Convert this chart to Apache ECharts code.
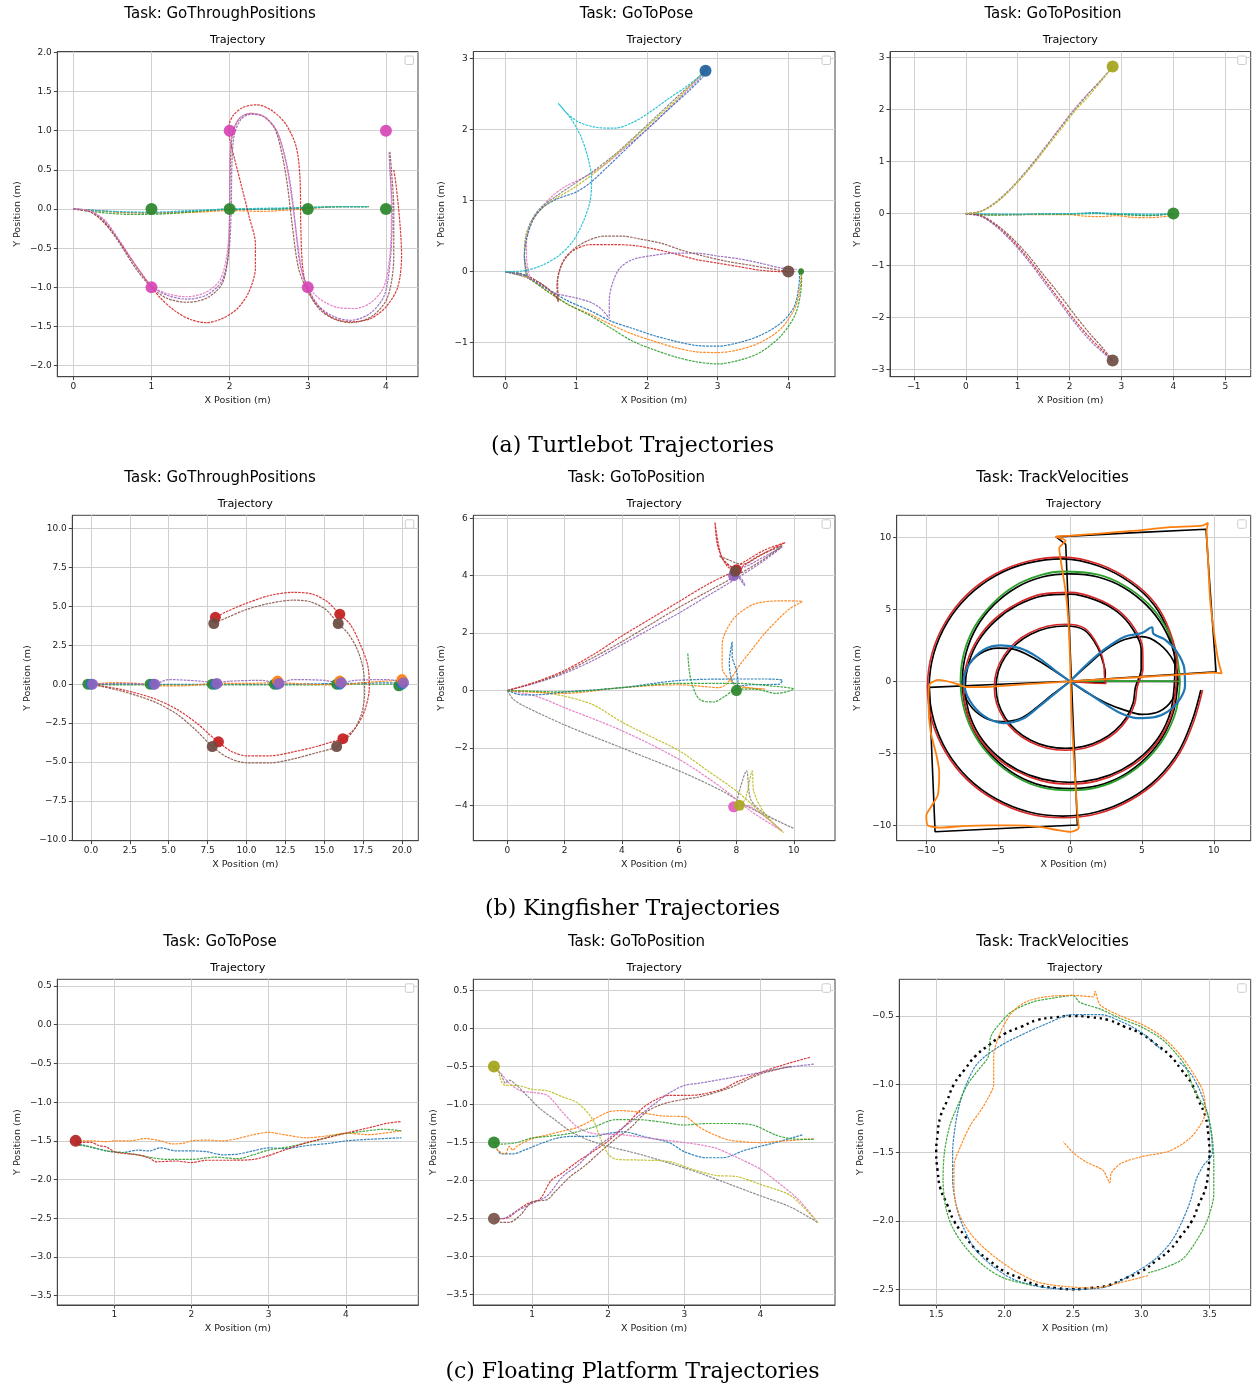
<!DOCTYPE html>
<html><head><meta charset="utf-8">
<script src="https://cdn.jsdelivr.net/npm/echarts@6/dist/echarts.min.js"></script>
<style>html,body{margin:0;padding:0;background:#fff}#c{width:1258px;height:1388px}</style>
</head><body><div id="c"></div>
<script>
// ---------------- tick values ----------------
const a1XTicks=[0,1,2,3,4], a1YTicks=[-2,-1.5,-1,-0.5,0,0.5,1,1.5,2];
const a2XTicks=[0,1,2,3,4], a2YTicks=[-1,0,1,2,3];
const a3XTicks=[-1,0,1,2,3,4,5], a3YTicks=[-3,-2,-1,0,1,2,3];
const b1XTicks=[0,2.5,5,7.5,10,12.5,15,17.5,20], b1YTicks=[-10,-7.5,-5,-2.5,0,2.5,5,7.5,10];
const b2XTicks=[0,2,4,6,8,10], b2YTicks=[-4,-2,0,2,4,6];
const b3XTicks=[-10,-5,0,5,10], b3YTicks=[-10,-5,0,5,10];
const c1XTicks=[1,2,3,4], c1YTicks=[-3.5,-3,-2.5,-2,-1.5,-1,-0.5,0,0.5];
const c2XTicks=[1,2,3,4], c2YTicks=[-3.5,-3,-2.5,-2,-1.5,-1,-0.5,0,0.5];
const c3XTicks=[1.5,2,2.5,3,3.5], c3YTicks=[-2.5,-2,-1.5,-1,-0.5];

const taskTitles=['Task: GoThroughPositions','Task: GoToPose','Task: GoToPosition','Task: GoThroughPositions','Task: GoToPosition','Task: TrackVelocities','Task: GoToPose','Task: GoToPosition','Task: TrackVelocities'];
const captions=['(a) Turtlebot Trajectories','(b) Kingfisher Trajectories','(c) Floating Platform Trajectories'];

// ---------------- (a1) Turtlebot GoThroughPositions ----------------
const a1Blue=[[0,0],[0.3,-0.02],[0.6,-0.04],[1.0,-0.05],[1.5,-0.03],[2.0,-0.01],[2.5,0.0],[3.0,0.01],[3.4,0.03],[3.78,0.03]];
const a1Orange=[[0,0],[0.4,-0.03],[0.8,-0.05],[1.2,-0.05],[1.6,-0.04],[2.0,-0.02],[2.4,-0.03],[2.8,-0.01],[3.2,0.02],[3.5,0.03],[3.78,0.03]];
const a1Green=[[0,0],[0.4,-0.05],[0.8,-0.07],[1.2,-0.06],[1.6,-0.03],[2.0,0.0],[2.5,0.0],[3.0,0.02],[3.4,0.03],[3.78,0.03]];
const a1Cyan=[[0,0],[0.5,-0.03],[1.0,-0.04],[1.5,-0.02],[2.0,0.0],[2.5,0.01],[3.0,0.02],[3.5,0.03],[3.78,0.03]];
const a1Purple=[[0,0],[0.2,-0.02],[0.4,-0.15],[0.6,-0.42],[0.8,-0.73],[1.0,-0.98],[1.2,-1.1],[1.45,-1.15],[1.7,-1.1],[1.9,-0.92],[1.99,-0.55],[2.02,0.0],[2.03,0.6],[2.06,0.95],[2.15,1.15],[2.28,1.21],[2.45,1.17],[2.6,1.0],[2.7,0.7],[2.78,0.3],[2.84,-0.2],[2.9,-0.7],[3.0,-1.0],[3.15,-1.25],[3.35,-1.38],[3.55,-1.42],[3.8,-1.33],[3.98,-1.1],[4.06,-0.6],[4.08,0.0],[4.05,0.5],[4.04,0.72]];
const a1Brown=[[0,0],[0.2,-0.03],[0.4,-0.17],[0.6,-0.45],[0.8,-0.76],[1.0,-1.0],[1.2,-1.14],[1.45,-1.19],[1.7,-1.14],[1.9,-0.96],[1.98,-0.6],[2.0,0.0],[2.01,0.6],[2.04,0.97],[2.13,1.16],[2.27,1.22],[2.44,1.18],[2.58,1.02],[2.67,0.7],[2.74,0.3],[2.8,-0.2],[2.88,-0.75],[2.99,-1.03],[3.15,-1.28],[3.35,-1.41],[3.55,-1.45],[3.82,-1.37],[4.02,-1.13],[4.1,-0.6],[4.1,0.0],[4.07,0.5],[4.05,0.74]];
const a1Pink=[[0,0],[0.2,-0.02],[0.4,-0.14],[0.6,-0.42],[0.8,-0.72],[1.0,-0.98],[1.2,-1.08],[1.45,-1.12],[1.7,-1.06],[1.88,-0.9],[1.97,-0.55],[2.0,0.0],[2.0,0.6],[2.03,0.95],[2.12,1.15],[2.27,1.22],[2.44,1.18],[2.6,1.0],[2.72,0.6],[2.8,0.1],[2.88,-0.5],[2.95,-0.9],[3.05,-1.05],[3.2,-1.18],[3.4,-1.26],[3.6,-1.27],[3.8,-1.2],[3.97,-1.0],[4.05,-0.6],[4.07,0.0],[4.05,0.6]];
const a1Red=[[0,0],[0.25,-0.05],[0.5,-0.3],[0.75,-0.65],[0.95,-0.93],[1.1,-1.12],[1.3,-1.3],[1.5,-1.41],[1.7,-1.45],[1.9,-1.4],[2.1,-1.27],[2.25,-1.05],[2.33,-0.75],[2.33,-0.45],[2.25,-0.1],[2.15,0.3],[2.06,0.65],[2.0,0.9],[1.99,1.05],[2.05,1.2],[2.18,1.3],[2.35,1.33],[2.55,1.25],[2.72,1.08],[2.85,0.8],[2.9,0.4],[2.91,-0.2],[2.93,-0.7],[2.98,-0.98],[3.1,-1.2],[3.3,-1.38],[3.55,-1.44],[3.8,-1.4],[4.0,-1.25],[4.15,-1.0],[4.2,-0.6],[4.18,-0.2],[4.13,0.3],[4.1,0.5]];
const a1GoalGreen=[[1,0],[2,0],[3,0],[4,0]];
const a1GoalMagenta=[[1,-1],[2,1],[3,-1],[4,1]];

// ---------------- (a2) Turtlebot GoToPose ----------------
const a2Cyan=[[0,0],[0.25,0.01],[0.5,0.08],[0.75,0.22],[0.95,0.42],[1.1,0.7],[1.2,1.0],[1.22,1.3],[1.17,1.6],[1.07,1.9],[0.93,2.15],[0.75,2.37],[0.88,2.22],[1.05,2.1],[1.3,2.03],[1.55,2.02],[1.8,2.1],[2.05,2.25],[2.3,2.43],[2.55,2.6],[2.85,2.83]];
const a2Olive=[[0,0],[0.15,-0.02],[0.3,-0.08],[0.27,0.2],[0.3,0.5],[0.4,0.75],[0.55,0.92],[0.75,1.05],[1.0,1.2],[1.3,1.42],[1.6,1.68],[1.9,1.95],[2.2,2.22],[2.5,2.5],[2.83,2.85]];
const a2Pink=[[0,0],[0.2,-0.03],[0.35,-0.1],[0.3,0.2],[0.3,0.45],[0.38,0.7],[0.5,0.88],[0.65,1.05],[0.85,1.2],[1.1,1.32],[1.4,1.5],[1.7,1.75],[2.0,2.0],[2.3,2.28],[2.6,2.58],[2.8,2.78]];
const a2Gray=[[0,0],[0.2,-0.02],[0.32,-0.07],[0.27,0.25],[0.29,0.5],[0.37,0.72],[0.5,0.9],[0.7,1.05],[0.95,1.22],[1.25,1.42],[1.55,1.65],[1.85,1.92],[2.15,2.2],[2.45,2.48],[2.75,2.75],[2.87,2.9]];
const a2BlueUp=[[0,0],[0.2,-0.03],[0.3,-0.06],[0.27,0.2],[0.3,0.45],[0.4,0.75],[0.55,0.92],[0.75,1.03],[1.0,1.12],[1.2,1.25],[1.45,1.48],[1.7,1.72],[2.0,2.0],[2.3,2.28],[2.6,2.55],[2.8,2.75]];
const a2Blue=[[0,0],[0.3,-0.08],[0.6,-0.25],[0.9,-0.42],[1.2,-0.55],[1.5,-0.7],[1.8,-0.8],[2.1,-0.9],[2.4,-0.98],[2.7,-1.04],[3.0,-1.05],[3.3,-1.0],[3.6,-0.9],[3.9,-0.72],[4.08,-0.5],[4.15,-0.2],[4.16,0.05]];
const a2Orange=[[0,0],[0.3,-0.08],[0.6,-0.28],[0.9,-0.47],[1.2,-0.6],[1.5,-0.75],[1.8,-0.88],[2.1,-0.98],[2.4,-1.07],[2.7,-1.13],[3.0,-1.14],[3.3,-1.1],[3.6,-1.0],[3.9,-0.8],[4.1,-0.5],[4.17,-0.2],[4.18,0.05]];
const a2Green=[[0,0],[0.3,-0.08],[0.6,-0.28],[0.9,-0.47],[1.2,-0.62],[1.5,-0.8],[1.8,-0.98],[2.1,-1.1],[2.4,-1.2],[2.7,-1.27],[3.0,-1.3],[3.3,-1.25],[3.6,-1.14],[3.9,-0.9],[4.1,-0.6],[4.18,-0.25],[4.19,0.05]];
const a2Red=[[0,0],[0.3,-0.06],[0.55,-0.2],[0.7,-0.33],[0.75,-0.42],[0.73,-0.2],[0.76,0.0],[0.85,0.2],[1.0,0.32],[1.2,0.38],[1.5,0.38],[1.8,0.37],[2.1,0.32],[2.4,0.25],[2.7,0.17],[3.0,0.12],[3.3,0.07],[3.6,0.02],[3.9,0.0],[4.1,0.0]];
const a2Brown=[[0,0],[0.3,-0.06],[0.55,-0.2],[0.72,-0.35],[0.75,-0.42],[0.74,-0.15],[0.8,0.1],[0.95,0.3],[1.15,0.43],[1.4,0.5],[1.65,0.5],[1.9,0.46],[2.2,0.4],[2.5,0.3],[2.8,0.22],[3.1,0.15],[3.4,0.1],[3.7,0.05],[4.0,0.0]];
const a2Purple=[[0,0],[0.35,-0.1],[0.7,-0.3],[1.0,-0.37],[1.2,-0.43],[1.35,-0.52],[1.47,-0.66],[1.47,-0.4],[1.52,-0.15],[1.62,0.05],[1.8,0.17],[2.1,0.23],[2.4,0.26],[2.7,0.26],[3.0,0.22],[3.3,0.18],[3.6,0.12],[3.9,0.05],[4.12,0.03]];
const a2GoalBlue=[[2.83,2.83]], a2GoalBrown=[[4,0]], a2GoalGreen=[[4.18,0]];

// ---------------- (a3) Turtlebot GoToPosition ----------------
const a3Pink=[[0,0],[0.25,0.03],[0.5,0.15],[0.8,0.4],[1.1,0.72],[1.4,1.08],[1.7,1.5],[2.0,1.9],[2.3,2.25],[2.6,2.55],[2.83,2.83]];
const a3Olive=[[0,0],[0.3,0.04],[0.6,0.22],[0.9,0.5],[1.2,0.83],[1.5,1.2],[1.8,1.58],[2.1,1.97],[2.4,2.3],[2.65,2.6],[2.83,2.83]];
const a3Gray=[[0,0],[0.3,0.05],[0.6,0.24],[0.9,0.52],[1.2,0.86],[1.5,1.24],[1.8,1.62],[2.1,2.0],[2.4,2.35],[2.65,2.62],[2.83,2.83]];
const a3Blue=[[0,0],[0.5,-0.02],[1.0,-0.02],[1.5,-0.01],[2.0,-0.01],[2.5,0.02],[2.8,-0.01],[3.2,-0.02],[3.6,-0.03],[4.0,0.0]];
const a3Orange=[[0,0],[0.5,-0.02],[1.0,-0.02],[1.5,-0.02],[2.0,-0.02],[2.3,-0.05],[2.6,-0.06],[2.9,-0.04],[3.2,-0.07],[3.5,-0.08],[3.8,-0.06],[4.0,-0.03]];
const a3Green=[[0,0],[0.5,-0.03],[1.0,-0.02],[1.5,-0.01],[2.0,-0.01],[2.5,0.0],[3.0,-0.02],[3.5,-0.04],[4.0,0.0]];
const a3Cyan=[[0,0],[1.0,-0.01],[2.0,0.0],[2.5,0.01],[3.0,0.0],[3.6,-0.01],[4.0,0.0]];
const a3Red=[[0,0],[0.3,-0.05],[0.6,-0.24],[0.9,-0.52],[1.2,-0.86],[1.5,-1.25],[1.8,-1.65],[2.1,-2.05],[2.4,-2.4],[2.65,-2.65],[2.83,-2.83]];
const a3Purple=[[0,0],[0.3,-0.06],[0.6,-0.26],[0.9,-0.55],[1.2,-0.9],[1.5,-1.3],[1.8,-1.7],[2.1,-2.1],[2.4,-2.45],[2.65,-2.68],[2.83,-2.83]];
const a3Brown=[[0,0],[0.3,-0.04],[0.6,-0.22],[0.9,-0.48],[1.2,-0.8],[1.5,-1.18],[1.8,-1.55],[2.1,-1.95],[2.4,-2.32],[2.65,-2.6],[2.83,-2.83]];
const a3GoalOlive=[[2.83,2.83]], a3GoalGreen=[[4,0]], a3GoalBrown=[[2.83,-2.83]];

// ---------------- (b1) Kingfisher GoThroughPositions ----------------
const b1Green=[[0,0],[2,-0.05],[4,-0.05],[6,-0.05],[8,-0.05],[10,-0.05],[12,-0.05],[14,-0.05],[16,0.0],[18,0.0],[20,0.0]];
const b1Orange=[[0,0],[1.5,0.1],[3,0.05],[4,-0.1],[6,-0.1],[8,0.05],[10,0.05],[12,0.1],[14,0.0],[16,-0.05],[17.5,0.1],[19,0.2],[20,0.25]];
const b1Purple=[[0,0],[2,0.05],[4,0.0],[5,0.3],[7,0.2],[8,0.1],[9,0.2],[11,0.25],[12,0.05],[13,0.3],[15,0.25],[16,0.1],[17,0.25],[19,0.3],[20,0.2]];
const b1Blue=[[0,0],[4,0.0],[8,0.0],[12,0.0],[16,0.05],[20,0.1]];
const b1Red=[[0,0],[2,-0.35],[4,-0.9],[5.5,-1.6],[6.8,-2.5],[7.7,-3.3],[8.2,-3.7],[9,-4.3],[10,-4.6],[11.5,-4.6],[13,-4.35],[14.5,-4.0],[15.5,-3.7],[16.2,-3.5],[17,-2.8],[17.6,-1.7],[17.9,-0.2],[17.8,1.2],[17.3,2.6],[16.7,3.8],[16,4.5],[15.2,5.3],[14.2,5.8],[13,5.9],[11.5,5.7],[10,5.2],[8.8,4.7],[8,4.3]];
const b1Brown=[[0,0],[2,-0.45],[4,-1.1],[5.5,-1.9],[6.8,-3.0],[7.8,-4.0],[8.8,-4.7],[10,-5.05],[11.5,-5.05],[13,-4.8],[14.5,-4.4],[15.8,-4.0],[16.8,-3.1],[17.4,-1.9],[17.6,-0.5],[17.5,1.0],[17.1,2.3],[16.5,3.3],[15.9,3.9],[15.1,4.8],[14.1,5.3],[13,5.4],[11.5,5.2],[10,4.8],[8.8,4.3],[7.9,3.9]];
const b1GoalGreen=[[-0.2,0],[3.8,0],[7.8,0],[11.8,0],[15.8,0],[19.8,-0.1]];
const b1GoalBlue=[[0,0],[4,0],[8,0],[12,0],[16,0],[20,0]];
const b1GoalOrange=[[12,0.2],[16,0.2],[20,0.3]];
const b1GoalPurple=[[0.1,0],[4.1,0],[8.1,0.05],[12.1,0.05],[16.1,0.1],[20.1,0.1]];
const b1GoalRed=[[8,4.3],[16,4.5],[8.2,-3.7],[16.2,-3.5]];
const b1GoalBrown=[[7.9,3.9],[15.9,3.9],[7.8,-4.0],[15.8,-4.0]];

// ---------------- (b2) Kingfisher GoToPosition ----------------
const b2Red=[[0,0],[1,0.3],[2,0.7],[3,1.25],[4,1.9],[5,2.5],[6,3.1],[7,3.7],[8,4.2],[9,4.8],[9.7,5.15],[9.0,4.9],[8.3,4.5],[7.9,4.3],[7.5,4.6],[7.25,5.85],[7.35,5.0],[7.7,4.3],[8.0,4.2]];
const b2Brown=[[0,0],[1,0.28],[2,0.65],[3,1.15],[4,1.7],[5,2.3],[6,2.9],[7,3.45],[8,4.0],[9,4.6],[9.6,5.05],[8.8,4.7],[8.2,4.4],[7.6,4.6],[7.4,4.7],[7.8,4.3],[8.0,4.15]];
const b2Purple=[[0,0],[1,0.26],[2,0.6],[3,1.05],[4,1.6],[5,2.15],[6,2.7],[7,3.3],[8,3.9],[9,4.55],[9.6,5.0],[8.5,4.4],[8.0,4.1],[8.3,3.65],[8.1,3.95],[7.8,3.8],[8.0,4.05]];
const b2Gray=[[0,0],[0.2,-0.3],[0.5,-0.5],[2,-1.2],[4,-2.0],[6,-2.8],[7.5,-3.5],[8.5,-4.1],[10,-4.8],[9.0,-4.3],[8.5,-3.8],[8.35,-2.8],[8.1,-3.5],[8.0,-4.0]];
const b2Pink=[[0,0],[1,-0.2],[2,-0.6],[4,-1.4],[6,-2.4],[7.5,-3.4],[8.5,-4.2],[9.6,-4.9],[9.0,-4.4],[8.3,-4.0],[7.95,-4.05]];
const b2Olive=[[0,0],[1,-0.05],[2,-0.2],[3,-0.5],[4,-1.1],[5,-1.6],[6,-2.1],[7,-2.8],[8,-3.5],[8.8,-4.2],[9.65,-4.95],[9.0,-4.3],[8.6,-3.5],[8.55,-2.8],[8.3,-3.8],[8.05,-4.0]];
const b2Blue=[[0,0],[0.5,-0.15],[1,-0.15],[2,-0.05],[4,0.1],[6,0.35],[8,0.4],[9,0.4],[9.6,0.35],[9.5,0.22],[8.5,0.2],[8,0.15],[7.8,0.5],[7.75,1.0],[7.85,1.7],[7.85,1.2],[8.0,0.7],[8.05,0.3],[8.0,0.05]];
const b2Green=[[0,0],[2,-0.05],[4,0.1],[6,0.25],[8,0.25],[9.3,0.15],[10,0.05],[9.4,-0.1],[8.6,0.05],[8.0,0.05],[7.6,-0.2],[7.2,-0.4],[6.7,-0.3],[6.4,0.4],[6.3,1.3]];
const b2Orange=[[0,0],[2,-0.1],[4,0.1],[6,0.2],[7.4,0.1],[8.2,1.0],[9.0,2.0],[9.8,2.8],[10.3,3.1],[9.5,3.12],[8.6,3.0],[7.9,2.5],[7.5,1.6],[7.5,0.8],[8.0,0.2],[9.0,0.05],[8.2,0.1]];
const b2GoalRed=[[8.0,4.2]], b2GoalBrown=[[7.95,4.15]], b2GoalPurple=[[7.9,4.0]];
const b2GoalGreen=[[8,0]], b2GoalPink=[[7.9,-4.05]], b2GoalOlive=[[8.1,-4.0]];

// ---------------- (b3) Kingfisher TrackVelocities ----------------
const b3SquareRef=[[0,0],[5,0.33],[10.16,0.66],[9.8,5.6],[9.46,10.55],[4.2,10.3],[-0.97,10.02],[-0.3,9.5],[0.1,0],[0.51,-9.97],[-4.4,-10.2],[-9.39,-10.44],[-9.6,-5.4],[-9.79,-0.42],[-4.9,-0.2],[0,0]];
const b3SquareOrange=[[0,0],[2.5,0.15],[5,0.3],[7.5,0.45],[10.0,0.6],[10.55,0.55],[10.3,1.5],[10.0,3.5],[9.74,5.75],[9.6,8.5],[9.5,10.4],[9.6,11.0],[9.2,10.8],[7,10.7],[4.5,10.45],[2,10.25],[0,10.1],[-1.0,10.05],[-0.3,9.75],[-0.75,9.25],[-0.6,8.1],[-0.3,6.2],[-0.1,4],[0,1.5],[0.1,-2],[0.25,-5],[0.4,-7.5],[0.5,-9.0],[0.6,-10.2],[0.0,-10.45],[-1.0,-10.3],[-2.1,-10.1],[-4,-10.0],[-5.6,-10.0],[-7.5,-10.05],[-9.05,-10.15],[-9.9,-10.0],[-10.0,-9.3],[-9.6,-8.6],[-9.2,-7.9],[-9.1,-6.3],[-9.3,-5.1],[-9.7,-3.5],[-9.85,-1.5],[-9.8,-0.25],[-9.2,0.1],[-8.1,-0.1],[-7.2,-0.4],[-5.6,-0.38],[-3,-0.2],[0,0]];
const b3EightRef=[[0,0],[1.2,1.1],[2.5,2.2],[3.8,2.9],[5,3.1],[6.2,2.6],[7.2,1.4],[7.5,0],[7.1,-1.3],[6.2,-2.1],[5,-2.3],[3.8,-2.0],[2.5,-1.5],[1.2,-0.8],[0,0],[-1.2,0.8],[-2.5,1.6],[-3.8,2.2],[-5.0,2.3],[-6.3,1.9],[-7.2,0.9],[-7.5,-0.3],[-7.0,-1.6],[-6.0,-2.5],[-4.8,-2.8],[-3.5,-2.6],[-2.3,-1.8],[-1.2,-0.9],[0,0]];
const b3EightBlue=[[0,0],[1.2,1.2],[2.5,2.3],[3.8,3.1],[5,3.35],[5.7,3.75],[5.8,3.3],[6.6,2.9],[7.4,2.1],[7.95,0.9],[8.0,-0.3],[7.6,-1.3],[6.8,-2.1],[5.8,-2.5],[4.7,-2.55],[3.5,-2.2],[2.3,-1.5],[1.1,-0.7],[0,0],[-1.1,0.8],[-2.3,1.7],[-3.5,2.3],[-4.8,2.5],[-6.0,2.2],[-7.0,1.2],[-7.4,0],[-7.0,-1.3],[-6.0,-2.4],[-4.6,-2.9],[-3.3,-2.6],[-2.1,-1.7],[-1.0,-0.8],[0,0]];
const b3CircleRef=[[0,0],[3.8,0],[7.5,0],[7.24,1.94],[6.5,3.75],[5.3,5.3],[3.75,6.5],[1.94,7.24],[0,7.45],[-1.94,7.24],[-3.75,6.5],[-5.3,5.3],[-6.5,3.75],[-7.24,1.94],[-7.5,0],[-7.24,-1.94],[-6.5,-3.75],[-5.3,-5.3],[-3.75,-6.5],[-1.94,-7.24],[0,-7.45],[1.94,-7.24],[3.75,-6.5],[5.3,-5.3],[6.5,-3.75],[7.24,-1.94],[7.5,0]];
const b3CircleGreen=[[0,0],[3.8,0.02],[7.65,0],[7.38,1.98],[6.62,3.83],[5.4,5.42],[3.82,6.62],[1.95,7.4],[-0.5,7.62],[-2.0,7.38],[-3.85,6.62],[-5.4,5.38],[-6.62,3.82],[-7.38,1.97],[-7.62,0],[-7.36,-1.98],[-6.6,-3.8],[-5.37,-5.38],[-3.8,-6.6],[-1.96,-7.36],[0,-7.56],[1.97,-7.34],[3.8,-6.58],[5.4,-5.36],[6.62,-3.8],[7.4,-1.96],[7.65,0]];
const b3SpiralRef=[[0,0],[1.2,-0.05],[2.4,-0.05],[2.45,0.6],[2.3,1.3],[1.9,2.4],[1.0,3.55],[-0.3,3.84],[-1.56,3.7],[-2.73,3.27],[-3.73,2.6],[-4.5,1.72],[-4.99,0.69],[-5.15,-0.41],[-4.99,-1.51],[-4.5,-2.54],[-3.73,-3.42],[-2.73,-4.09],[-1.56,-4.52],[-0.3,-4.66],[0.96,-4.52],[2.13,-4.09],[3.13,-3.42],[3.9,-2.54],[4.39,-1.51],[4.55,-0.41],[4.95,0.85],[4.95,2.25],[4.35,3.65],[3.25,4.85],[1.75,5.65],[0.0,6.05],[-1.91,5.93],[-3.67,5.27],[-5.17,4.22],[-6.33,2.86],[-7.05,1.27],[-7.3,-0.43],[-7.05,-2.13],[-6.33,-3.72],[-5.17,-5.08],[-3.67,-6.13],[-1.91,-6.79],[-0.03,-7.01],[1.85,-6.79],[3.6,-6.13],[5.11,-5.08],[6.27,-3.72],[6.99,-2.13],[7.24,-0.43],[7.3,1.35],[6.85,3.4],[5.85,5.3],[4.2,6.85],[2.0,8.0],[-0.5,8.5],[-2.95,8.2],[-5.15,7.35],[-7.08,5.93],[-8.55,4.08],[-9.48,1.92],[-9.8,-0.4],[-9.48,-2.72],[-8.55,-4.88],[-7.08,-6.73],[-5.15,-8.15],[-2.91,-9.05],[-0.5,-9.35],[1.91,-9.05],[4.15,-8.15],[6.08,-6.73],[7.55,-4.88],[8.5,-2.72],[9.1,-0.6]];
const b3SpiralRed=[[0,0],[1.2,-0.1],[2.5,-0.15],[2.4,0.3],[2.35,1.2],[1.95,2.45],[1.03,3.67],[-0.3,3.96],[-1.59,3.82],[-2.79,3.37],[-3.82,2.69],[-4.6,1.78],[-5.11,0.72],[-5.27,-0.41],[-5.11,-1.54],[-4.6,-2.6],[-3.82,-3.51],[-2.79,-4.19],[-1.59,-4.64],[-0.3,-4.78],[0.99,-4.64],[2.19,-4.19],[3.22,-3.51],[4.0,-2.6],[4.51,-1.54],[4.67,-0.41],[5.07,0.88],[5.05,2.31],[4.44,3.74],[3.31,4.95],[1.78,5.77],[0.0,6.17],[-1.94,6.05],[-3.73,5.37],[-5.26,4.31],[-6.43,2.92],[-7.17,1.3],[-7.42,-0.43],[-7.17,-2.16],[-6.43,-3.78],[-5.26,-5.17],[-3.73,-6.23],[-1.94,-6.91],[-0.03,-7.13],[1.88,-6.91],[3.66,-6.23],[5.2,-5.17],[6.37,-3.78],[7.11,-2.16],[7.36,-0.43],[7.42,1.38],[6.95,3.46],[5.94,5.39],[4.26,6.95],[2.03,8.12],[-0.5,8.62],[-2.98,8.32],[-5.21,7.45],[-7.17,6.02],[-8.65,4.14],[-9.6,1.95],[-9.92,-0.4],[-9.6,-2.75],[-8.65,-4.94],[-7.17,-6.82],[-5.21,-8.25],[-2.94,-9.17],[-0.5,-9.47],[1.94,-9.17],[4.21,-8.25],[6.17,-6.82],[7.65,-4.94],[8.62,-2.75],[9.22,-0.6]];

// ---------------- (c1) Floating GoToPose ----------------
const c1Orange=[[0.5,-1.5],[0.7,-1.5],[0.9,-1.51],[1.0,-1.5],[1.2,-1.5],[1.4,-1.47],[1.6,-1.5],[1.75,-1.54],[1.9,-1.53],[2.0,-1.5],[2.2,-1.49],[2.4,-1.5],[2.6,-1.47],[2.8,-1.42],[3.0,-1.39],[3.2,-1.42],[3.5,-1.46],[3.8,-1.43],[4.0,-1.4],[4.3,-1.42],[4.5,-1.4],[4.72,-1.37]];
const c1Blue=[[0.5,-1.53],[0.7,-1.58],[0.9,-1.63],[1.1,-1.65],[1.3,-1.62],[1.45,-1.63],[1.6,-1.59],[1.8,-1.63],[2.0,-1.63],[2.2,-1.64],[2.4,-1.68],[2.6,-1.67],[2.8,-1.63],[3.0,-1.59],[3.2,-1.6],[3.5,-1.56],[3.8,-1.53],[4.0,-1.5],[4.3,-1.48],[4.72,-1.46]];
const c1Green=[[0.5,-1.55],[0.7,-1.58],[0.9,-1.63],[1.1,-1.65],[1.3,-1.68],[1.5,-1.72],[1.7,-1.74],[2.0,-1.74],[2.3,-1.71],[2.6,-1.73],[2.8,-1.68],[3.0,-1.62],[3.3,-1.57],[3.6,-1.5],[3.9,-1.42],[4.2,-1.38],[4.5,-1.35],[4.72,-1.37]];
const c1Red=[[0.5,-1.52],[0.6,-1.52],[0.7,-1.52],[0.8,-1.56],[0.9,-1.58],[1.0,-1.64],[1.1,-1.66],[1.3,-1.68],[1.45,-1.72],[1.55,-1.77],[1.8,-1.76],[2.0,-1.78],[2.2,-1.75],[2.5,-1.75],[2.8,-1.74],[3.0,-1.69],[3.2,-1.62],[3.5,-1.52],[3.8,-1.45],[4.0,-1.4],[4.3,-1.33],[4.55,-1.27],[4.72,-1.25]];
const c1Goal=[[0.5,-1.5]];

// ---------------- (c2) Floating GoToPosition ----------------
const c2Red=[[4.65,-0.38],[4.3,-0.48],[4.0,-0.58],[3.7,-0.7],[3.5,-0.8],[3.2,-0.87],[3.0,-0.88],[2.8,-0.88],[2.6,-0.95],[2.45,-1.05],[2.3,-1.2],[2.15,-1.35],[2.0,-1.48],[1.8,-1.62],[1.6,-1.75],[1.4,-1.9],[1.25,-2.0],[1.1,-2.25],[0.95,-2.3],[0.8,-2.4],[0.7,-2.48],[0.6,-2.5],[0.5,-2.5]];
const c2Brown=[[4.4,-0.5],[4.0,-0.6],[3.6,-0.78],[3.2,-0.9],[3.0,-0.93],[2.7,-1.0],[2.5,-1.1],[2.3,-1.3],[2.1,-1.45],[1.9,-1.62],[1.7,-1.8],[1.5,-1.95],[1.3,-2.15],[1.2,-2.25],[1.0,-2.28],[0.85,-2.45],[0.7,-2.55],[0.6,-2.55],[0.5,-2.5]];
const c2Purple=[[4.7,-0.47],[4.3,-0.52],[4.0,-0.58],[3.6,-0.65],[3.2,-0.72],[3.0,-0.75],[2.8,-0.85],[2.6,-1.0],[2.4,-1.15],[2.2,-1.3],[2.0,-1.45],[1.8,-1.6],[1.6,-1.8],[1.4,-1.95],[1.2,-2.2],[1.0,-2.3],[0.8,-2.4],[0.6,-2.5],[0.5,-2.5]];
const c2Orange=[[4.7,-1.45],[4.3,-1.48],[4.0,-1.5],[3.6,-1.47],[3.4,-1.4],[3.2,-1.3],[3.0,-1.16],[2.7,-1.15],[2.4,-1.1],[2.15,-1.08],[2.0,-1.1],[1.8,-1.2],[1.6,-1.3],[1.4,-1.35],[1.2,-1.4],[1.0,-1.45],[0.8,-1.55],[0.75,-1.6],[0.7,-1.55],[0.65,-1.65],[0.55,-1.6],[0.5,-1.5]];
const c2Green=[[4.7,-1.46],[4.4,-1.45],[4.2,-1.4],[3.9,-1.27],[3.6,-1.25],[3.3,-1.25],[3.0,-1.27],[2.7,-1.23],[2.4,-1.2],[2.1,-1.2],[1.8,-1.3],[1.5,-1.38],[1.2,-1.42],[1.0,-1.44],[0.8,-1.5],[0.6,-1.52],[0.5,-1.5]];
const c2Blue=[[4.55,-1.4],[4.2,-1.5],[3.8,-1.6],[3.5,-1.7],[3.3,-1.7],[3.0,-1.62],[2.8,-1.5],[2.5,-1.43],[2.2,-1.36],[2.0,-1.38],[1.8,-1.42],[1.5,-1.42],[1.3,-1.45],[1.1,-1.52],[0.9,-1.6],[0.75,-1.65],[0.6,-1.65],[0.55,-1.6],[0.5,-1.5]];
const c2Pink=[[4.75,-2.55],[4.5,-2.25],[4.2,-2.0],[4.0,-1.85],[3.7,-1.7],[3.4,-1.57],[3.0,-1.5],[2.6,-1.45],[2.2,-1.4],[1.8,-1.38],[1.6,-1.3],[1.4,-1.1],[1.2,-0.88],[1.0,-0.84],[0.85,-0.82],[0.7,-0.72],[0.6,-0.6],[0.5,-0.5]];
const c2Olive=[[4.75,-2.55],[4.4,-2.2],[4.0,-2.05],[3.7,-1.95],[3.4,-1.93],[3.1,-1.85],[2.8,-1.75],[2.4,-1.73],[2.1,-1.72],[2.0,-1.65],[1.9,-1.45],[1.8,-1.2],[1.6,-0.98],[1.4,-0.9],[1.2,-0.82],[1.0,-0.8],[0.8,-0.75],[0.65,-0.75],[0.6,-0.7],[0.55,-0.55],[0.5,-0.5]];
const c2Gray=[[4.75,-2.55],[4.4,-2.35],[4.0,-2.2],[3.6,-2.05],[3.2,-1.9],[2.8,-1.77],[2.4,-1.65],[2.0,-1.55],[1.7,-1.45],[1.5,-1.35],[1.3,-1.2],[1.1,-1.05],[0.95,-0.9],[0.8,-0.75],[0.7,-0.68],[0.65,-0.72],[0.6,-0.62],[0.5,-0.5]];
const c2GoalOlive=[[0.5,-0.5]], c2GoalGreen=[[0.5,-1.5]], c2GoalBrown=[[0.5,-2.5]];

// ---------------- (c3) Floating TrackVelocities ----------------
const c3Ref=[[3.5,-1.5],[3.49,-1.37],[3.47,-1.24],[3.42,-1.12],[3.37,-1.0],[3.29,-0.89],[3.21,-0.79],[3.11,-0.71],[3.0,-0.63],[2.88,-0.58],[2.76,-0.53],[2.63,-0.51],[2.5,-0.5],[2.37,-0.51],[2.24,-0.53],[2.12,-0.58],[2.0,-0.63],[1.89,-0.71],[1.79,-0.79],[1.71,-0.89],[1.63,-1.0],[1.58,-1.12],[1.53,-1.24],[1.51,-1.37],[1.5,-1.5],[1.51,-1.63],[1.53,-1.76],[1.58,-1.88],[1.63,-2.0],[1.71,-2.11],[1.79,-2.21],[1.89,-2.29],[2.0,-2.37],[2.12,-2.42],[2.24,-2.47],[2.37,-2.49],[2.5,-2.5],[2.63,-2.49],[2.76,-2.47],[2.88,-2.42],[3.0,-2.37],[3.11,-2.29],[3.21,-2.21],[3.29,-2.11],[3.37,-2.0],[3.42,-1.88],[3.47,-1.76],[3.49,-1.63],[3.5,-1.5]];
const c3Blue=[[3.15,-0.75],[3.0,-0.62],[2.85,-0.54],[2.7,-0.49],[2.5,-0.49],[2.3,-0.56],[2.1,-0.65],[1.95,-0.73],[1.8,-0.85],[1.72,-1.0],[1.67,-1.15],[1.64,-1.3],[1.62,-1.5],[1.62,-1.7],[1.65,-1.9],[1.7,-2.05],[1.78,-2.2],[1.9,-2.32],[2.05,-2.42],[2.25,-2.48],[2.5,-2.5],[2.75,-2.48],[2.95,-2.38],[3.1,-2.28],[3.22,-2.15],[3.3,-2.0],[3.36,-1.85],[3.4,-1.7],[3.45,-1.6],[3.52,-1.5],[3.51,-1.35],[3.48,-1.2],[3.43,-1.05],[3.36,-0.92],[3.28,-0.84]];
const c3Green=[[2.2,-2.47],[2.0,-2.42],[1.85,-2.33],[1.72,-2.2],[1.62,-2.05],[1.57,-1.9],[1.55,-1.7],[1.56,-1.5],[1.6,-1.3],[1.66,-1.15],[1.73,-1.0],[1.82,-0.88],[1.88,-0.8],[1.9,-0.65],[1.97,-0.55],[2.05,-0.47],[2.2,-0.4],[2.35,-0.37],[2.5,-0.35],[2.55,-0.4],[2.7,-0.45],[2.85,-0.52],[3.0,-0.58],[3.15,-0.67],[3.25,-0.77],[3.33,-0.88],[3.37,-1.0],[3.42,-1.1],[3.48,-1.2],[3.52,-1.4],[3.53,-1.6],[3.53,-1.8],[3.48,-2.0],[3.4,-2.15],[3.3,-2.28],[3.15,-2.35],[3.05,-2.38]];
const c3Orange=[[3.05,-2.4],[2.85,-2.45],[2.65,-2.49],[2.45,-2.48],[2.25,-2.45],[2.1,-2.38],[1.95,-2.28],[1.82,-2.17],[1.72,-2.05],[1.65,-1.9],[1.63,-1.75],[1.63,-1.6],[1.68,-1.45],[1.75,-1.3],[1.82,-1.2],[1.88,-1.1],[1.92,-1.0],[1.92,-0.8],[1.97,-0.62],[2.05,-0.48],[2.15,-0.4],[2.3,-0.36],[2.5,-0.35],[2.65,-0.36],[2.66,-0.32],[2.7,-0.42],[2.85,-0.5],[3.0,-0.56],[3.15,-0.65],[3.28,-0.78],[3.38,-0.92],[3.45,-1.05],[3.47,-1.2],[3.43,-1.3],[3.35,-1.4],[3.2,-1.49],[3.0,-1.53],[2.85,-1.58],[2.78,-1.65],[2.77,-1.72],[2.72,-1.63],[2.6,-1.57],[2.5,-1.5],[2.43,-1.42]];

// ---------------- layout ----------------
const FONT='DejaVu Sans';
const COL={blue:'#1f77b4',orange:'#ff7f0e',green:'#2ca02c',red:'#d62728',purple:'#9467bd',brown:'#8c564b',pink:'#e377c2',gray:'#7f7f7f',olive:'#bcbd22',cyan:'#17becf'};
const GRIDS=[[57.3,51.5,360.7,325.2],[473.3,51.5,361.7,325.2],[890,51.5,360.7,325.2],
             [72.3,515.3,346,325.4],[473.3,515.3,361.7,325.4],[896.7,515.3,354,325.4],
             [57.3,979.3,361,325.7],[473.3,979.3,361.7,325.7],[899.3,979.3,351.4,325.7]];
const XEXT=[[-0.205,4.41],[-0.452,4.66],[-1.46,5.49],[-1.2,21.05],[-1.19,11.44],[-12.06,12.57],[0.262,4.94],[0.229,4.98],[1.23,3.80]];
const YEXT=[[-2.14,2.01],[-1.48,3.10],[-3.14,3.12],[-10.05,10.85],[-5.23,6.10],[-11.06,11.52],[-3.62,0.587],[-3.635,0.645],[-2.615,-0.232]];
const XT=[a1XTicks,a2XTicks,a3XTicks,b1XTicks,b2XTicks,b3XTicks,c1XTicks,c2XTicks,c3XTicks];
const YT=[a1YTicks,a2YTicks,a3YTicks,b1YTicks,b2YTicks,b3YTicks,c1YTicks,c2YTicks,c3YTicks];
const XDEC=[0,0,0,1,0,0,0,0,1], YDEC=[1,0,0,1,0,0,1,1,1];
const YGAP=[35,26.6,27,40,26.6,33.7,35,35,34];
const TITLE_X=[220,636.5,1053,220,636.5,1052.5,220,636.5,1052.5];
const ROW_TITLE_Y=[14,478.3,942.3], ROW_SUB_Y=[40,504.3,968.3], CAP_Y=[446,909,1372];

function fmt(v,dec){const s=Math.abs(v).toFixed(dec);return (v<-1e-9?'\u2212':'')+s;}
function axis(g,ext,ticks,dec,name,gap){
  const iv=ticks[1]-ticks[0];
  return {type:'value',gridIndex:g,min:ext[0],max:ext[1],minInterval:iv,maxInterval:iv,
    name:name,nameLocation:'middle',nameGap:gap,nameTextStyle:{fontSize:9.5,fontFamily:FONT,color:'#222'},
    axisLine:{show:true,onZero:false,lineStyle:{color:'#444',width:1}},
    axisTick:{show:true,length:3.5,customValues:ticks,lineStyle:{color:'#444',width:1}},
    axisLabel:{show:true,customValues:ticks,margin:5.5,fontSize:9,fontFamily:FONT,color:'#222',formatter:v=>fmt(v,dec)},
    splitLine:{show:true,lineStyle:{color:'#d0d0d0',width:1}}};
}
const series=[];
function tr(g,data,color,opt){
  opt=opt||{};
  series.push({type:'line',xAxisIndex:g,yAxisIndex:g,data:data,showSymbol:false,smooth:opt.smooth!=null?opt.smooth:0.3,
    lineStyle:{color:color,width:opt.w||1.2,type:opt.dash||[2.6,1],opacity:opt.op||0.9,cap:'butt'},z:opt.z||2,silent:true,animation:false,clip:true});
}
function goal(g,data,color,size){
  series.push({type:'scatter',xAxisIndex:g,yAxisIndex:g,data:data,symbolSize:size||12,itemStyle:{color:color,opacity:0.92},z:6,silent:true,animation:false});
}
// a1
tr(0,a1Blue,COL.blue);tr(0,a1Orange,COL.orange);tr(0,a1Green,COL.green);tr(0,a1Cyan,COL.cyan);
tr(0,a1Red,COL.red);tr(0,a1Purple,COL.purple);tr(0,a1Brown,COL.brown);tr(0,a1Pink,COL.pink);
goal(0,a1GoalGreen,'#2a862a',12);goal(0,a1GoalMagenta,'#d645b5',12);
// a2
tr(1,a2Blue,COL.blue);tr(1,a2Orange,COL.orange);tr(1,a2Green,COL.green);tr(1,a2Red,COL.red);tr(1,a2Purple,COL.purple);
tr(1,a2Brown,COL.brown);tr(1,a2Pink,COL.pink);tr(1,a2Gray,COL.gray);tr(1,a2Olive,COL.olive);tr(1,a2BlueUp,'#3a6fc0');tr(1,a2Cyan,COL.cyan);
goal(1,a2GoalBlue,'#1f5f9a',12);goal(1,a2GoalBrown,'#6d4c44',12);goal(1,a2GoalGreen,'#2a862a',6);
// a3
tr(2,a3Blue,COL.blue);tr(2,a3Orange,COL.orange);tr(2,a3Green,COL.green);tr(2,a3Cyan,COL.cyan);
tr(2,a3Red,COL.red);tr(2,a3Purple,COL.purple);tr(2,a3Brown,COL.brown);tr(2,a3Pink,COL.pink);tr(2,a3Gray,COL.gray);tr(2,a3Olive,COL.olive);
goal(2,a3GoalOlive,'#a3a31a',12);goal(2,a3GoalGreen,'#2a862a',12);goal(2,a3GoalBrown,'#6d4c44',12);
// b1
tr(3,b1Blue,COL.blue);tr(3,b1Green,COL.green);tr(3,b1Orange,COL.orange);tr(3,b1Purple,COL.purple);
tr(3,b1Red,COL.red);tr(3,b1Brown,COL.brown);
goal(3,b1GoalGreen,'#2a862a',11);goal(3,b1GoalBlue,'#1f77b4',11);goal(3,b1GoalOrange,'#ff7f0e',11);goal(3,b1GoalPurple,'#8e63c0',11);
goal(3,b1GoalRed,'#c21d1d',11);goal(3,b1GoalBrown,'#6b4a40',11);
// b2
tr(4,b2Gray,COL.gray);tr(4,b2Pink,COL.pink);tr(4,b2Olive,COL.olive);
tr(4,b2Purple,COL.purple);tr(4,b2Brown,COL.brown);tr(4,b2Red,COL.red);
tr(4,b2Orange,COL.orange);tr(4,b2Blue,COL.blue);tr(4,b2Green,COL.green);
goal(4,b2GoalPurple,'#8e63c0',11);goal(4,b2GoalRed,'#c21d1d',11);goal(4,b2GoalBrown,'#6d4c44',11);
goal(4,b2GoalGreen,'#2a862a',11);goal(4,b2GoalPink,'#e05cc0',11);goal(4,b2GoalOlive,'#a8a820',11);
// b3
const REF={w:1.7,dash:'solid',op:1,smooth:0.35};
tr(5,b3SquareRef,'#000',{w:1.6,dash:'solid',op:1,smooth:0});
tr(5,b3CircleRef,'#000',REF);tr(5,b3SpiralRef,'#000',REF);tr(5,b3EightRef,'#000',REF);
tr(5,b3CircleGreen,COL.green,{w:1.8,dash:'solid',op:1,smooth:0.35,z:3});
tr(5,b3SpiralRed,COL.red,{w:1.6,dash:'solid',op:1,smooth:0.35,z:3});
tr(5,b3EightBlue,COL.blue,{w:2.2,dash:'solid',op:1,smooth:0.35,z:3});
tr(5,b3SquareOrange,COL.orange,{w:1.8,dash:'solid',op:1,smooth:0.2,z:4});
// c1
tr(6,c1Orange,COL.orange);tr(6,c1Blue,COL.blue);tr(6,c1Green,COL.green);tr(6,c1Red,COL.red);
goal(6,c1Goal,'#b22222',12);
// c2
tr(7,c2Blue,COL.blue);tr(7,c2Orange,COL.orange);tr(7,c2Green,COL.green);tr(7,c2Red,COL.red);tr(7,c2Purple,COL.purple);
tr(7,c2Brown,COL.brown);tr(7,c2Pink,COL.pink);tr(7,c2Gray,COL.gray);tr(7,c2Olive,COL.olive);
goal(7,c2GoalOlive,'#a3a31a',12);goal(7,c2GoalGreen,'#2a862a',12);goal(7,c2GoalBrown,'#7a5448',12);
// c3
tr(8,c3Ref,'#000',{w:2.4,dash:[2.4,3.8],op:1,smooth:0.5});
tr(8,c3Blue,COL.blue);tr(8,c3Green,COL.green);tr(8,c3Orange,COL.orange);

const grids=[],xAxes=[],yAxes=[],graphics=[];
function text(x,y,str,size,family){
  graphics.push({type:'text',x:x,y:y,silent:true,style:{text:str,fontSize:size,fontFamily:family,fill:'#000',align:'center',verticalAlign:'middle',textAlign:'center',textVerticalAlign:'middle'}});
}
GRIDS.forEach((g,i)=>{
  grids.push({left:g[0],top:g[1],width:g[2],height:g[3],show:true,borderColor:'#444',borderWidth:1,containLabel:false});
  xAxes.push(axis(i,XEXT[i],XT[i],XDEC[i],'X Position (m)',19));
  yAxes.push(axis(i,YEXT[i],YT[i],YDEC[i],'Y Position (m)',YGAP[i]));
  const row=Math.floor(i/3);
  text(TITLE_X[i],ROW_TITLE_Y[row],taskTitles[i],15,FONT);
  text(g[0]+g[2]/2,ROW_SUB_Y[row],'Trajectory',11.2,FONT);
  graphics.push({type:'rect',silent:true,shape:{x:g[0]+g[2]-13,y:g[1]+4.5,width:8.5,height:8.5,r:1.5},style:{fill:'#fff',stroke:'#cccccc',lineWidth:1},z:10});
});
captions.forEach((c,i)=>text(632.5,CAP_Y[i],c,22,'DejaVu Serif'));

const chart=echarts.init(document.getElementById('c'),null,{renderer:'canvas',width:1258,height:1388});
chart.setOption({animation:false,backgroundColor:'#fff',grid:grids,xAxis:xAxes,yAxis:yAxes,series:series,graphic:graphics});
</script></body></html>
